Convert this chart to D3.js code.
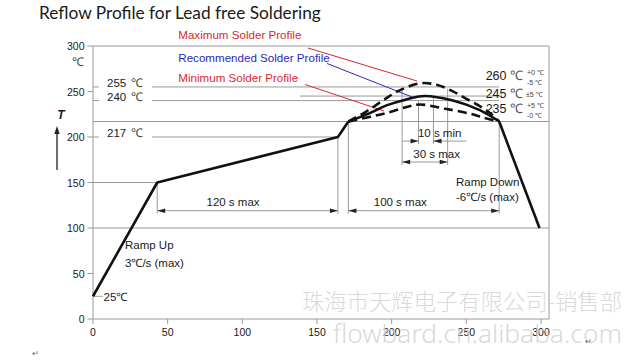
<!DOCTYPE html>
<html>
<head>
<meta charset="utf-8">
<script src="https://cdn.jsdelivr.net/npm/d3@7/dist/d3.min.js"></script>
<style>
  body { margin: 0; background: #fff; }
  svg { display: block; }
</style>
</head>
<body>
<div id="chart"></div>
<script>
// profile points: [time s, temperature C]
var rampUp = [[0, 25], [43, 150], [164, 200], [171, 217]];
var recommended = [[171, 217], [185, 226], [197, 235], [208, 240.5], [222, 245], [241, 240], [259, 229.5], [272, 217]];
var maximum = [[171, 217], [183, 228], [194, 240], [205, 251], [219, 259], [230, 257.5], [240, 251], [250, 242], [259, 234], [266, 226], [272, 217]];
var minimum = [[171, 217], [185, 222], [199, 227.5], [210, 233], [219, 235.7], [235, 231.3], [252, 225.8], [262, 221], [272, 217]];
var rampDown = [[272, 217], [299, 100]];

var xTicks = [0, 50, 100, 150, 200, 250, 300];
var yTicks = [0, 50, 100, 150, 200, 250, 300];

// reference temperatures
var fullGrid = [300, 217, 100];
var leftLevels = ["255", "240", "217"];
var leftLevelTemps = [255, 240, 200];
var leftLevelEnds = [272, 272, 164];
var peakLevels = ["260", "245", "235"];
var peakTemps = [260, 245, 235];
var peakTol = [["+0 ℃", "-5 ℃"], ["±5 ℃"], ["+5 ℃", "-0 ℃"]];

// time windows
var spanLabels = ["120 s max", "100 s max", "30 s max", "10 s min"];
var spanStart = [43, 171, 207, 218];
var spanEnd = [164, 272, 237.5, 228];
var spanLevel = [119, 119, 172.5, 195.5];

var W = 644, H = 363;
var x = d3.scaleLinear().domain([0, 300]).range([93, 541]);
var y = d3.scaleLinear().domain([0, 300]).range([319, 46]);
var frameRight = 549;

var svg = d3.select("#chart").append("svg")
   .attr("width", W)
   .attr("height", H)
   .attr("font-family", "'Liberation Sans', Arial, sans-serif")
   .attr("fill", "#1a1a1a");

function fitWidth(sel, w) {
   var len = sel.node().getComputedTextLength();
   var fs = parseFloat(sel.attr("font-size"));
   sel.attr("font-size", (fs * w / len).toFixed(2));
}

var grid = "#9a9a9a";

// title
svg.append("text")
   .attr("x", 39).attr("y", 18.5)
   .attr("font-family", "Lato, 'Open Sans', sans-serif")
   .attr("font-size", 16)
   .text("Reflow Profile for Lead free Soldering")
   .call(fitWidth, 282);

// frame and grid lines
var g = svg.append("g").attr("stroke", grid).attr("stroke-width", 1).attr("fill", "none");
fullGrid.forEach(function(t) {
   g.append("line").attr("x1", x(0)).attr("x2", frameRight).attr("y1", y(t)).attr("y2", y(t));
});
g.append("line").attr("x1", x(0)).attr("x2", x(43)).attr("y1", y(150)).attr("y2", y(150));
g.append("line").attr("x1", frameRight).attr("x2", frameRight).attr("y1", y(300)).attr("y2", y(0));
g.append("line").attr("x1", x(0)).attr("x2", frameRight).attr("y1", y(0)).attr("y2", y(0));
g.append("line").attr("x1", x(0)).attr("x2", x(0)).attr("y1", y(300)).attr("y2", y(0));

// axis ticks
yTicks.forEach(function(t) {
   g.append("line").attr("x1", x(0) - 5.5).attr("x2", x(0)).attr("y1", y(t)).attr("y2", y(t));
   svg.append("text").attr("x", x(0) - 8.5).attr("y", y(t) + 4)
      .attr("text-anchor", "end").attr("font-size", 10.5).text(t);
});
xTicks.forEach(function(t) {
   g.append("line").attr("x1", x(t)).attr("x2", x(t)).attr("y1", y(0)).attr("y2", y(0) + 5);
   svg.append("text").attr("x", x(t)).attr("y", y(0) + 16.5)
      .attr("text-anchor", "middle").attr("font-size", 10.5).text(t);
});

svg.append("text").attr("x", 78).attr("y", 66).attr("text-anchor", "middle")
   .attr("font-size", 12).attr("fill", "#444").text("℃");
svg.append("text").attr("x", 61).attr("y", 119).attr("text-anchor", "middle")
   .attr("font-size", 12).attr("font-weight", "bold").attr("font-style", "italic").text("T");
svg.append("line").attr("x1", 57).attr("x2", 57).attr("y1", 170).attr("y2", 132)
   .attr("stroke", "#222").attr("stroke-width", 1.3);
svg.append("path").attr("d", "M57,126 L54.3,134 L59.7,134 Z").attr("fill", "#222");

// left level labels with their lines
leftLevels.forEach(function(lbl, i) {
   var yy = y(leftLevelTemps[i]);
   g.append("line").attr("x1", x(0)).attr("x2", x(0) + 6).attr("y1", yy).attr("y2", yy);
   g.append("line").attr("x1", 152).attr("x2", x(leftLevelEnds[i])).attr("y1", yy).attr("y2", yy);
   svg.append("text").attr("x", 107).attr("y", yy).attr("font-size", 11.5).text(lbl);
   svg.append("text").attr("x", 137).attr("y", yy).attr("text-anchor", "middle").attr("font-size", 12)
      .attr("fill", "#444").text("℃");
});
g.append("line").attr("x1", 300).attr("x2", x(274)).attr("y1", y(245)).attr("y2", y(245));

// right peak labels
var peakDy = [-2, 1.6, 7.6];
peakLevels.forEach(function(lbl, i) {
   var yy = y(peakTemps[i]) + peakDy[i];
   svg.append("text").attr("x", 506.5).attr("y", yy).attr("text-anchor", "end").attr("font-size", 12.5).text(lbl);
   svg.append("text").attr("x", 516).attr("y", yy).attr("text-anchor", "middle").attr("font-size", 13).attr("fill", "#555").text("℃");
   var tol = peakTol[i];
   if (tol.length === 1) {
      svg.append("text").attr("x", 526).attr("y", yy - 1).attr("font-size", 7).attr("fill", "#444").text(tol[0]);
   } else {
      svg.append("text").attr("x", 527).attr("y", yy - 5).attr("font-size", 7).attr("fill", "#444").text(tol[0]);
      svg.append("text").attr("x", 527).attr("y", yy + 5).attr("font-size", 7).attr("fill", "#444").text(tol[1]);
   }
});

// time windows
function head(px, py, dir) {
   return "M" + px + "," + py + " L" + (px - dir * 8) + "," + (py - 2.3) + " L" + (px - dir * 8) + "," + (py + 2.3) + " Z";
}
var spanTop0 = [150, 217, 252, 240];
var spanTop1 = [200, 217, 253, 243];
var spanTextT = [76, 188, 214.5, 217.6];
spanLabels.forEach(function(lbl, i) {
   var x0 = x(spanStart[i]), x1 = x(spanEnd[i]), yy = y(spanLevel[i]);
   g.append("line").attr("x1", x0).attr("x2", x0).attr("y1", y(spanTop0[i])).attr("y2", yy + 3);
   g.append("line").attr("x1", x1).attr("x2", x1).attr("y1", y(spanTop1[i])).attr("y2", yy + 3);
   if (i < 3) {
      g.append("line").attr("x1", x0).attr("x2", x1).attr("y1", yy).attr("y2", yy);
      svg.append("path").attr("d", head(x0, yy, -1)).attr("fill", "#222");
      svg.append("path").attr("d", head(x1, yy, 1)).attr("fill", "#222");
   } else {
      g.append("line").attr("x1", x(207)).attr("x2", x0).attr("y1", yy).attr("y2", yy);
      g.append("line").attr("x1", x1).attr("x2", x(250)).attr("y1", yy).attr("y2", yy);
      svg.append("path").attr("d", head(x0, yy, 1)).attr("fill", "#222");
      svg.append("path").attr("d", head(x1, yy, -1)).attr("fill", "#222");
   }
   svg.append("text").attr("x", x(spanTextT[i])).attr("y", yy - 4.5).attr("font-size", 11.5).text(lbl);
});

// ramp notes
svg.append("line").attr("x1", x(0)).attr("x2", x(0) + 10).attr("y1", y(25)).attr("y2", y(25))
   .attr("stroke", grid);
svg.append("text").attr("x", 103.5).attr("y", y(25) + 4.5).attr("font-size", 11.5).text("25℃");
svg.append("text").attr("x", 125).attr("y", 249).attr("font-size", 11.5).text("Ramp Up");
svg.append("text").attr("x", 125).attr("y", 267).attr("font-size", 11.5).text("3℃/s (max)");
svg.append("text").attr("x", 456).attr("y", 185.5).attr("font-size", 11.5).text("Ramp Down");
svg.append("text").attr("x", 456).attr("y", 201).attr("font-size", 11.5).text("-6℃/s (max)");

// profile labels and pointer lines
var pointerText = ["Maximum Solder Profile", "Recommended Solder Profile", "Minimum Solder Profile"];
var pointerColor = ["#d9272e", "#2b2bb8", "#d9272e"];
var pointerTextPos = [[57.1, 307.7], [57.1, 282.4], [57.1, 260.4]];
var pointerFrom = [[144, 297.8], [156.7, 280.8], [142, 257.7]];
var pointerTo = [[217, 261.5], [213.6, 244], [194.9, 228.6]];
pointerText.forEach(function(lbl, i) {
   svg.append("line")
      .attr("x1", x(pointerFrom[i][0])).attr("y1", y(pointerFrom[i][1]))
      .attr("x2", x(pointerTo[i][0])).attr("y2", y(pointerTo[i][1]))
      .attr("stroke", pointerColor[i]).attr("stroke-width", 1);
   svg.append("text").attr("x", x(pointerTextPos[i][0])).attr("y", y(pointerTextPos[i][1]))
      .attr("font-size", 11.6).attr("fill", pointerColor[i]).text(lbl);
});

// profile curves
var straight = d3.line().x(function(d) { return x(d[0]); }).y(function(d) { return y(d[1]); });
var smooth = d3.line().x(function(d) { return x(d[0]); }).y(function(d) { return y(d[1]); })
   .curve(d3.curveCatmullRom.alpha(0.5));
var curves = svg.append("g").attr("fill", "none").attr("stroke", "#111").attr("stroke-width", 2.6)
   .attr("stroke-linejoin", "round");
curves.append("path").attr("d", straight(rampUp));
curves.append("path").attr("d", straight(rampDown));
curves.append("path").attr("d", smooth(recommended));
curves.append("path").attr("d", smooth(maximum)).attr("stroke-dasharray", "9,5");
curves.append("path").attr("d", smooth(minimum)).attr("stroke-dasharray", "9,5");

// watermark
svg.append("text").attr("x", 302).attr("y", 310)
   .attr("font-family", "'Noto Sans CJK SC', sans-serif").attr("font-weight", 300)
   .attr("font-size", 21).attr("fill", "#d2d2d2").attr("fill-opacity", 0.85)
   .text("珠海市天辉电子有限公司-销售部").call(fitWidth, 320);
svg.append("text").attr("x", 333).attr("y", 343)
   .attr("font-family", "'Noto Sans', sans-serif").attr("font-weight", 300)
   .attr("font-size", 24).attr("fill", "#d2d2d2").attr("fill-opacity", 0.85)
   .text("flowbard.cn.alibaba.com").call(fitWidth, 289);
svg.append("text").attr("x", 32).attr("y", 356).attr("font-size", 8).attr("fill", "#666").text("↵");
svg.append("text").attr("x", 585).attr("y", 344).attr("font-size", 8).attr("fill", "#666").text("↵");
</script>
</body>
</html>
